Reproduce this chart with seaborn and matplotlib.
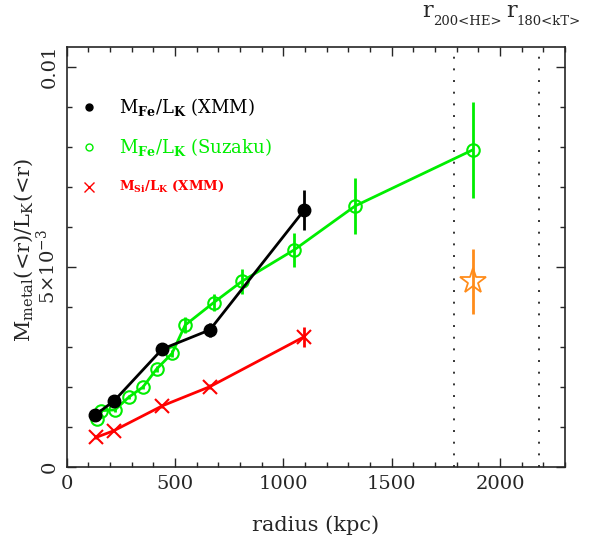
import numpy as np
import seaborn as sns
import matplotlib
matplotlib.use('Agg')
import matplotlib.pyplot as plt
from matplotlib.ticker import MultipleLocator

# datos (radio en kpc, cociente en unidades absolutas)
r_fe_xmm = [131, 220, 441, 661, 1097]
fe_xmm = [1.29e-3, 1.65e-3, 2.94e-3, 3.42e-3, 6.42e-3]
fe_xmm_err = [0.06e-3, 0.06e-3, 0.08e-3, 0.17e-3, 0.50e-3]

r_fe_suz = [138, 157, 223, 287, 352, 415, 486, 547, 678, 808, 1050, 1332, 1874]
fe_suz = [1.18e-3, 1.40e-3, 1.42e-3, 1.74e-3, 1.99e-3, 2.44e-3, 2.83e-3,
          3.54e-3, 4.10e-3, 4.63e-3, 5.42e-3, 6.52e-3, 7.92e-3]
fe_suz_err = [0.05e-3, 0.05e-3, 0.05e-3, 0.05e-3, 0.05e-3, 0.07e-3, 0.09e-3,
              0.21e-3, 0.21e-3, 0.32e-3, 0.42e-3, 0.71e-3, 1.20e-3]

r_si_xmm = [135, 218, 441, 661, 1097]
si_xmm = [0.73e-3, 0.90e-3, 1.52e-3, 2.00e-3, 3.25e-3]
si_xmm_err = [0.03e-3, 0.03e-3, 0.05e-3, 0.06e-3, 0.25e-3]

r_star = [1874]
star_val = [4.63e-3]
star_err = [0.81e-3]

r200_he = 1790
r180_kt = 2180

green = '#00ee00'
red = '#ff0000'
orange = '#ff8c1a'

sns.set_style('ticks')
plt.rcParams['font.family'] = ['DejaVu Serif']
plt.rcParams['mathtext.fontset'] = 'dejavuserif'

fig = plt.figure(figsize=(5.9, 5.42), dpi=100)
ax = fig.add_axes([0.113, 0.139, 0.8446, 0.7748])

# barras de error
ax.errorbar(r_fe_suz, fe_suz, yerr=fe_suz_err, fmt='none', ecolor=green, elinewidth=2, capsize=0)
ax.errorbar(r_fe_xmm, fe_xmm, yerr=fe_xmm_err, fmt='none', ecolor='black', elinewidth=2, capsize=0)
ax.errorbar(r_si_xmm, si_xmm, yerr=si_xmm_err, fmt='none', ecolor=red, elinewidth=2, capsize=0)
ax.errorbar(r_star, star_val, yerr=star_err, fmt='none', ecolor=orange, elinewidth=2, capsize=0)

sns.lineplot(x=r_fe_suz, y=fe_suz, ax=ax, color=green, lw=2, sort=False,
             marker='o', markersize=9, markerfacecolor='none',
             markeredgecolor=green, markeredgewidth=1.5)
sns.lineplot(x=r_fe_xmm, y=fe_xmm, ax=ax, color='black', lw=2, sort=False,
             marker='o', markersize=9, markerfacecolor='black',
             markeredgecolor='black', markeredgewidth=1)
sns.lineplot(x=r_si_xmm, y=si_xmm, ax=ax, color=red, lw=2, sort=False,
             marker='x', markersize=10, markeredgecolor=red, markeredgewidth=1.5)
sns.lineplot(x=r_star, y=star_val, ax=ax, color=orange, lw=0,
             marker='*', markersize=19, markerfacecolor='none',
             markeredgecolor=orange, markeredgewidth=1.3)

ax.axvline(r200_he, color='#333333', ls=(0, (1, 5)), lw=1.4)
ax.axvline(r180_kt, color='#333333', ls=(0, (1, 5)), lw=1.4)

# leyenda manual
ax.plot([104], [9.0e-3], 'o', color='black', ms=5)
ax.plot([104], [8.0e-3], 'o', mfc='none', mec=green, ms=5, mew=1)
ax.plot([104], [7.0e-3], 'x', color=red, ms=7, mew=1)
ax.text(243, 9.0e-3, r'M$_{\mathbf{Fe}}$/L$_{\mathbf{K}}$ (XMM)', color='black',
        fontsize=13, va='center')
ax.text(243, 8.0e-3, r'M$_{\mathbf{Fe}}$/L$_{\mathbf{K}}$ (Suzaku)', color=green,
        fontsize=13, va='center')
ax.text(243, 7.0e-3, r'M$_{\mathbf{Si}}$/L$_{\mathbf{K}}$ (XMM)', color=red,
        fontsize=9.5, va='center', fontweight='bold')

ax.set_xlim(0, 2300)
ax.set_ylim(0, 0.0105)
ax.xaxis.set_major_locator(MultipleLocator(500))
ax.xaxis.set_minor_locator(MultipleLocator(100))
ax.set_yticks([0, 5e-3, 0.01])
ax.set_yticklabels(['0', r'5$\times$10$^{-3}$', '0.01'], rotation=90, va='center')
ax.yaxis.set_minor_locator(MultipleLocator(1e-3))
ax.tick_params(which='both', direction='in', top=True, right=True, width=1, labelsize=14)
ax.tick_params(which='major', length=6.5, pad=6)
ax.tick_params(which='minor', length=3.5)
for s in ax.spines.values():
    s.set_linewidth(1.2)

ax.set_xlabel('radius (kpc)', fontsize=15, labelpad=16)
ax.set_ylabel(r'M$_{\rm metal}$(<r)/L$_{\rm K}$(<r)', fontsize=15)
ax.yaxis.set_label_coords(-0.064, 0.516)

# etiquetas de los radios caracteristicos sobre el eje
tr = ax.get_xaxis_transform()
ax.text(1640, 1.071, 'r', transform=tr, ha='left', va='baseline', fontsize=16)
ax.text(1690, 1.052, '200<HE>', transform=tr, ha='left', va='baseline', fontsize=9.5)
ax.text(2030, 1.071, 'r', transform=tr, ha='left', va='baseline', fontsize=16)
ax.text(2075, 1.052, '180<kT>', transform=tr, ha='left', va='baseline', fontsize=9.5)

fig.savefig('out.png', dpi=100)
